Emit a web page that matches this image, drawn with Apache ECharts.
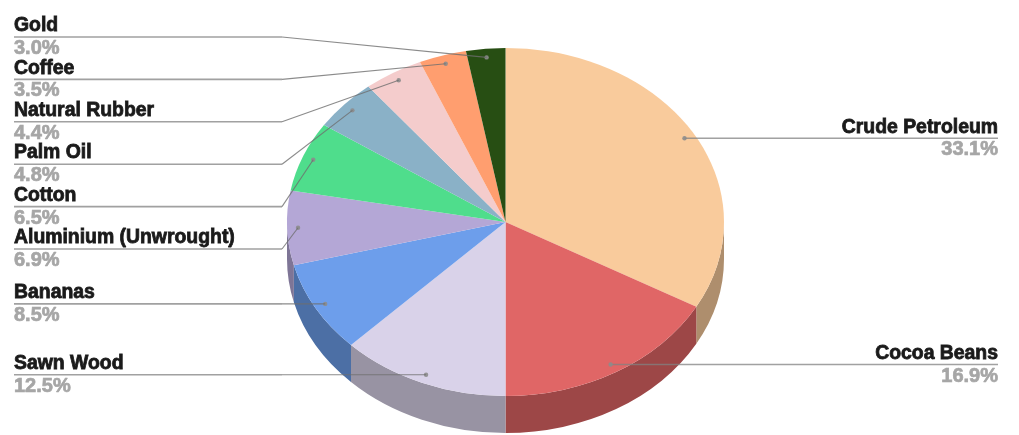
<!DOCTYPE html>
<html>
<head>
<meta charset="utf-8">
<style>html,body{margin:0;padding:0;background:#fff}#c{width:1019px;height:435px}</style>
<script src="https://cdn.jsdelivr.net/npm/echarts@6/dist/echarts.min.js"></script>
</head>
<body>
<div id="c"></div>
<script>
// ---- data ----
var categories = ['Crude Petroleum','Cocoa Beans','Sawn Wood','Bananas','Aluminium (Unwrought)','Cotton','Palm Oil','Natural Rubber','Coffee','Gold'];
var shares = [33.1,16.9,12.5,8.5,6.9,6.5,4.8,4.4,3.5,3.0];
var colors = ['#F9CB9C','#E06666','#D9D2E9','#6D9EEB','#B4A7D6','#4FDD8C','#8AB1C7','#F4CCCC','#FF9E6F','#274E13'];

// ---- layout ----
var CX = 505.5, CY = 222, RX = 218.5, RY = 174, DEPTH = 37;
var ANCHOR_R = 0.95, ELBOW_X = 282, LEFT_X = 14, RIGHT_X = 998;
var STACK_TOP = 37, STACK_STEP = 42.4;
var FULL = Math.PI * 2;
var starts = [];
shares.reduce(function (acc, v, i) { starts[i] = acc; return acc + v; }, 0);

function pt(a, k, dy) {
  return [CX + RX * (k || 1) * Math.sin(a), CY - RY * (k || 1) * Math.cos(a) + (dy || 0)];
}
// shares are percentages; rounding leaves 0.1 short, so the last slice closes the circle
function angles(i) {
  var end = i === shares.length - 1 ? 100 : starts[i] + shares[i];
  return [starts[i] / 100 * FULL, end / 100 * FULL];
}
function darker(hex) {
  var n = parseInt(hex.slice(1), 16), f = 0.7;
  return 'rgb(' + Math.round((n >> 16) * f) + ',' + Math.round(((n >> 8) & 255) * f) + ',' + Math.round((n & 255) * f) + ')';
}
function arc(p, large, sweep) {
  return 'A' + RX + ' ' + RY + ' 0 ' + large + ' ' + sweep + ' ' + p[0] + ' ' + p[1];
}

function renderWall(params, api) {
  var i = params.dataIndex, a = angles(i);
  var a0 = Math.max(a[0], FULL / 4), a1 = Math.min(a[1], FULL * 3 / 4);
  if (a1 <= a0) return null;
  var p0 = pt(a0), p1 = pt(a1), q0 = pt(a0, 1, DEPTH), q1 = pt(a1, 1, DEPTH);
  var large = a1 - a0 > Math.PI ? 1 : 0;
  return {
    type: 'path',
    shape: { pathData: 'M' + p0[0] + ' ' + p0[1] + arc(p1, large, 1) + 'L' + q1[0] + ' ' + q1[1] + arc(q0, large, 0) + 'Z' },
    style: { fill: darker(colors[i]), stroke: null }
  };
}
function renderTop(params, api) {
  var i = params.dataIndex, a = angles(i);
  var p0 = pt(a[0]), p1 = pt(a[1]);
  var large = a[1] - a[0] > Math.PI ? 1 : 0;
  return {
    type: 'path',
    shape: { pathData: 'M' + CX + ' ' + CY + 'L' + p0[0] + ' ' + p0[1] + arc(p1, large, 1) + 'Z' },
    style: { fill: colors[i], stroke: null }
  };
}
function renderLabel(params, api) {
  var i = params.dataIndex, a = angles(i), mid = (a[0] + a[1]) / 2;
  var anchor = pt(mid, ANCHOR_R);
  var right = mid < Math.PI;
  var stackIndex = categories.length - 1 - i; // Gold on top
  var y = (!right && stackIndex < 6) ? STACK_TOP + STACK_STEP * stackIndex : anchor[1];
  var endX = right ? RIGHT_X : LEFT_X;
  var textX = endX, align = right ? 'right' : 'left';
  var children = [
    { type: 'line', shape: { x1: endX, y1: y, x2: right ? anchor[0] : ELBOW_X, y2: y },
      style: { stroke: 'rgba(130,130,130,0.75)', lineWidth: 1.6 } },
    { type: 'circle', shape: { cx: anchor[0], cy: anchor[1], r: 2.2 }, style: { fill: 'rgba(140,140,140,0.9)' } },
    { type: 'text', style: { x: textX, y: y - 1.6, text: categories[i], align: align, verticalAlign: 'bottom',
        font: 'bold 19.4px "Liberation Sans", Arial, sans-serif', fill: '#1a1a1a', stroke: '#1a1a1a', lineWidth: 0.8 } },
    { type: 'text', style: { x: textX, y: y + 1.5, text: shares[i].toFixed(1) + '%', align: align, verticalAlign: 'top',
        font: 'bold 20px "Liberation Sans", Arial, sans-serif', fill: '#a6a6a6', stroke: '#a6a6a6', lineWidth: 0.7 } }
  ];
  if (!right) {
    children.push({ type: 'line', shape: { x1: ELBOW_X, y1: y, x2: anchor[0], y2: anchor[1] },
      style: { stroke: 'rgba(110,110,110,0.8)', lineWidth: 1.1 } });
  }
  return { type: 'group', children: children };
}

var seriesData = shares.map(function (v, i) { return { name: categories[i], value: v }; });
var chart = echarts.init(document.getElementById('c'), null, { renderer: 'canvas' });
chart.setOption({
  animation: false,
  backgroundColor: '#fff',
  series: [
    { type: 'custom', coordinateSystem: 'none', renderItem: renderWall, data: seriesData, silent: true, z: 1 },
    { type: 'custom', coordinateSystem: 'none', renderItem: renderTop, data: seriesData, silent: true, z: 2 },
    { type: 'custom', coordinateSystem: 'none', renderItem: renderLabel, data: seriesData, silent: true, z: 3 }
  ]
});
</script>
</body>
</html>
